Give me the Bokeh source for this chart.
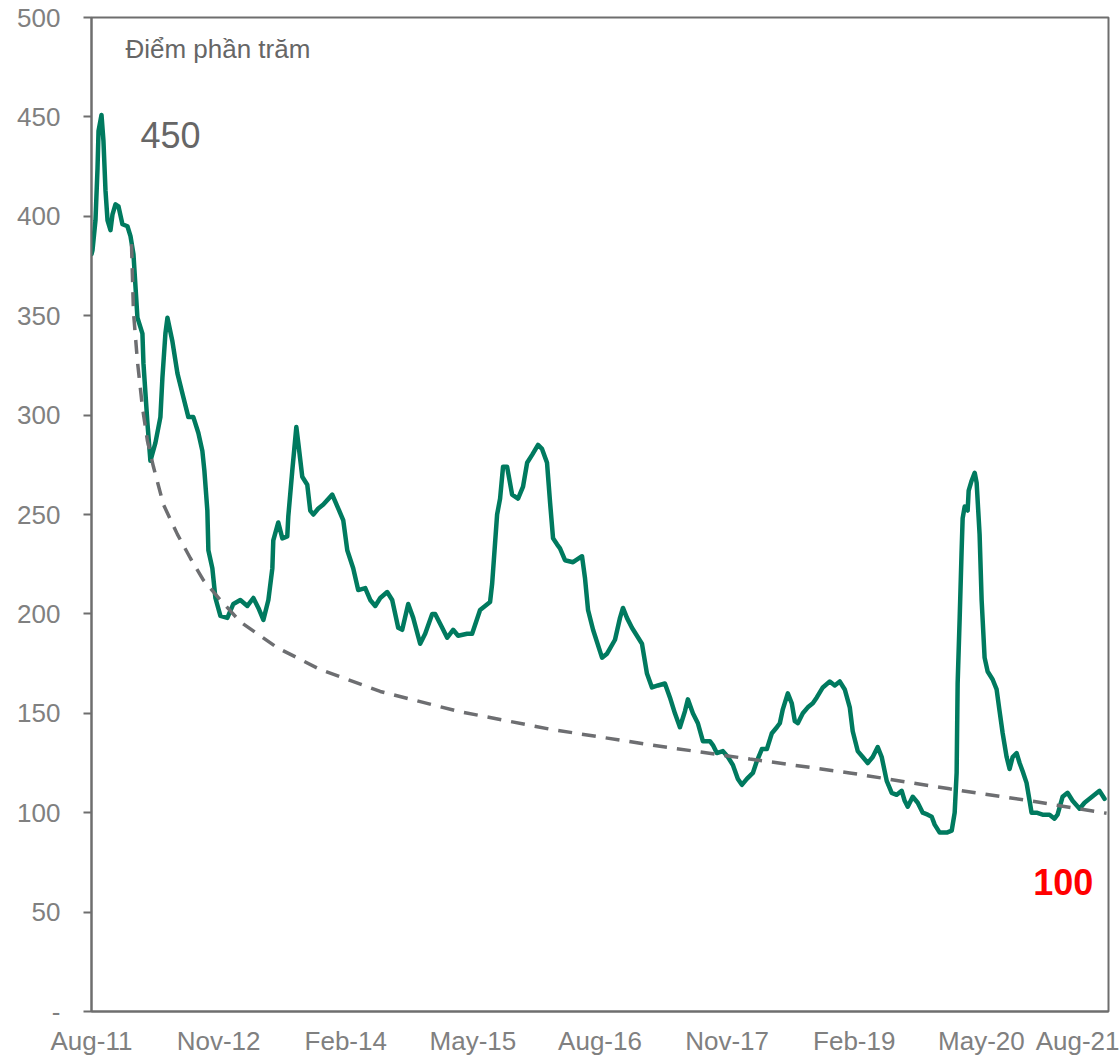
from bokeh.plotting import figure
from bokeh.models import Range1d, FixedTicker, Label
from bokeh.embed import file_html
from bokeh.resources import INLINE

# months since Aug-2011
months = [0, 0.12, 0.47, 0.71, 0.83, 1.18, 1.41, 1.65, 1.89, 2.24, 2.48, 2.83, 3.18, 3.65, 4.24, 4.60, 4.95,
          5.42, 6.01, 6.13, 6.60, 6.95, 7.54, 8.13, 8.37, 8.72, 8.96, 9.55, 10.14, 10.84, 11.43, 12.02, 12.61,
          13.08, 13.32, 13.67, 13.79, 14.26, 14.62, 15.21, 16.03, 16.74, 17.56, 18.39, 19.10, 19.69, 20.28,
          20.87, 21.34, 21.45, 22.04, 22.52, 23.10, 23.22, 23.69, 24.17, 24.40, 24.87, 25.46, 25.81, 26.17,
          26.76, 27.35, 28.41, 29.12, 29.71, 30.18, 30.88, 31.47, 32.30, 32.89, 33.48, 34.07, 34.89, 35.48,
          36.19, 36.66, 37.37, 37.96, 38.78, 39.37, 40.20, 40.55, 41.38, 41.97, 42.67, 43.26, 44.32, 44.91,
          45.85, 47.03, 47.27, 47.86, 48.21, 48.56, 49.04, 49.63, 50.33, 50.92, 51.40, 51.99, 52.69, 53.16,
          53.75, 54.11, 54.46, 54.93, 55.28, 55.87, 56.82, 57.88, 58.23, 58.59, 59.18, 60.24, 60.83, 61.77,
          62.36, 62.71, 63.18, 63.77, 64.36, 64.95, 65.54, 66.13, 66.84, 67.66, 68.25, 68.84, 69.43, 70.02,
          70.37, 70.96, 71.55, 72.14, 72.97, 73.32, 73.79, 74.50, 75.09, 75.68, 76.27, 76.74, 77.33, 78.04,
          78.51, 79.10, 79.69, 80.28, 80.87, 81.22, 81.57, 82.16, 82.63, 82.99, 83.34, 83.93, 84.52, 85.11,
          85.58, 86.29, 87.11, 87.70, 88.29, 88.88, 89.47, 89.82, 90.41, 91.00, 91.59, 92.18, 92.77, 93.24,
          93.83, 94.42, 95.01, 95.60, 95.95, 96.31, 96.90, 97.49, 98.08, 98.67, 99.14, 99.49, 100.08, 100.91,
          101.50, 101.85, 102.08, 102.20, 102.44, 102.67, 102.79, 103.03, 103.38, 103.50, 103.85, 104.21,
          104.44, 104.79, 105.03, 105.38, 105.74, 106.33, 106.80, 107.15, 107.51, 107.98, 108.33, 108.69,
          109.16, 109.51, 109.86, 110.33, 110.69, 110.92, 111.51, 112.22, 113.04, 113.63, 113.99, 114.58,
          115.17, 115.76, 116.59, 117.17, 117.76, 118.35, 118.94, 119.53]

spread = [381, 383, 398, 424, 443, 451, 438, 413, 398, 393, 401, 406, 405, 396, 395, 390, 381,
          349, 341, 326, 296, 277, 286, 299, 319, 341, 349, 337, 321, 309, 299, 299, 291,
          282, 272, 252, 232, 223, 208, 199, 198, 205, 207, 204, 208, 203, 197,
          207, 223, 237, 246, 238, 239, 249, 272, 294, 286, 269, 265, 252, 250,
          253, 255, 260, 253, 247, 232, 223, 212, 213, 207, 204, 208, 211, 207,
          193, 192, 205, 198, 185, 190, 200, 200, 193, 188, 192, 189, 190, 190,
          202, 206, 215, 250, 258, 274, 274, 260, 258, 264, 276, 280, 285, 283,
          276, 256, 238, 235, 233, 227, 226, 229, 218, 202, 192, 178, 180, 187,
          198, 203, 198, 193, 189, 185, 170, 163, 164, 165, 158, 150, 143, 151,
          157, 150, 145, 136, 136, 134, 130, 131, 128, 124, 117, 114, 117, 120,
          126, 132, 132, 140, 143, 145, 152, 160, 155, 146, 145, 150, 153, 155,
          158, 163, 166, 164, 166, 162, 153, 141, 131, 128, 125, 128, 133, 128,
          116, 110, 109, 111, 106, 103, 108, 105, 100, 99, 98, 94, 90, 90,
          91, 100, 120, 165, 198, 232, 248, 254, 252, 262, 267, 271,
          266, 240, 207, 178, 171, 167, 162, 151, 140, 128, 122, 128,
          130, 125, 121, 115, 106, 100, 100, 99, 99, 97, 99, 108,
          110, 106, 102, 105, 107, 109, 111, 107]

trend_months = [4.72, 4.95, 5.42, 6.01, 6.60, 7.31, 8.49, 10.14, 11.67, 13.20, 15.21, 17.56, 21.93,
                26.99, 34.07, 43.26, 54.11, 66.13, 77.68, 89.47, 101.26, 110.69, 119.77]
trend_values = [386, 352, 327, 304, 287, 274, 255, 240, 228, 217, 207, 196, 183,
                172, 161, 151, 142, 134, 127, 120, 112, 106, 99.7]

x_tick_labels = ["Aug-11", "Nov-12", "Feb-14", "May-15", "Aug-16", "Nov-17", "Feb-19", "May-20", "Aug-21"]
y_ticks = [0, 50, 100, 150, 200, 250, 300, 350, 400, 450, 500]

GREEN = "#007A5F"
DASH = "#6D6E71"
AXIS = "#6E6E6E"
LABEL = "#808080"
FONT = "Liberation Sans"

p = figure(width=1119, height=1059, output_backend="svg", toolbar_location=None,
           x_range=Range1d(0, 120), y_range=Range1d(0, 500),
           min_border_left=91, min_border_right=11, min_border_top=17, min_border_bottom=48)

p.grid.visible = False
p.outline_line_color = AXIS
p.outline_line_width = 2
p.background_fill_color = "white"
p.border_fill_color = "white"

x_ticks = [15 * i for i in range(len(x_tick_labels))]
p.xaxis.ticker = FixedTicker(ticks=x_ticks)
p.xaxis.major_label_overrides = {t: lab for t, lab in zip(x_ticks, x_tick_labels)}
p.xaxis.major_tick_out = 0
p.xaxis.major_tick_in = 0
p.xaxis.minor_tick_out = 0
p.xaxis.minor_tick_in = 0
p.xaxis.major_label_standoff = 14

p.yaxis.ticker = FixedTicker(ticks=y_ticks)
p.yaxis.major_label_overrides = {0: "-"}
p.yaxis.major_tick_out = 8
p.yaxis.major_tick_in = 0
p.yaxis.minor_tick_out = 0
p.yaxis.minor_tick_in = 0
p.yaxis.major_label_standoff = 23

for ax in (p.xaxis, p.yaxis):
    ax.axis_line_color = AXIS
    ax.axis_line_width = 2
    ax.major_tick_line_color = AXIS
    ax.major_tick_line_width = 2
    ax.major_label_text_color = LABEL
    ax.major_label_text_font = FONT
    ax.major_label_text_font_size = "26px"

p.line(months, spread, line_width=4.5, color=GREEN, line_join="round", line_cap="round")
p.line(trend_months, trend_values, line_width=3.5, color=DASH, line_dash="14 10")

p.add_layout(Label(x=4.0, y=484, text="Điểm phần trăm", text_font=FONT, text_font_size="26px",
                   text_color="#666666", text_baseline="middle", text_align="left"))
p.add_layout(Label(x=5.78, y=441, text="450", text_font=FONT, text_font_size="36px",
                   text_color="#666666", text_baseline="middle", text_align="left"))
p.add_layout(Label(x=118.2, y=65, text="100", text_font=FONT, text_font_size="36px",
                   text_font_style="bold", text_color="#FF0000", text_baseline="middle", text_align="right"))

open("out.html", "w").write(file_html(p, INLINE))
